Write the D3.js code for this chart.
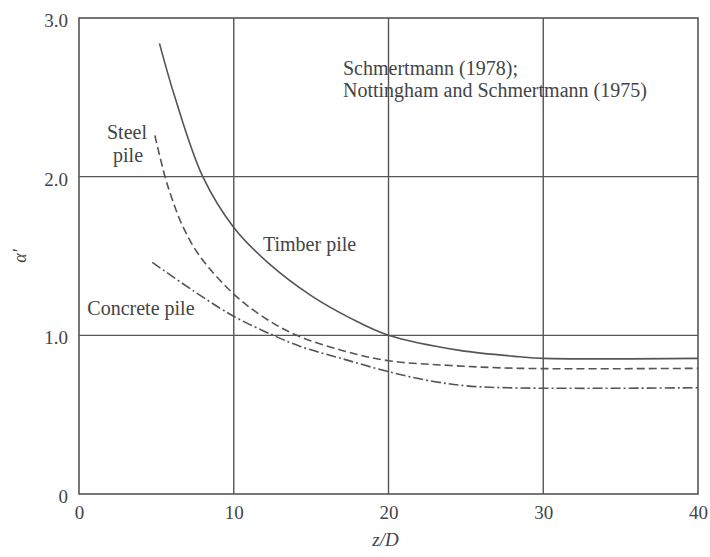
<!DOCTYPE html>
<html>
<head>
<meta charset="utf-8">
<script src="https://cdn.jsdelivr.net/npm/d3@7"></script>
<style>
  html, body { margin: 0; padding: 0; background: #fff; }
  svg { display: block; }
  text { font-family: "Liberation Serif", "Times New Roman", serif; fill: #444; }
</style>
</head>
<body>
<svg id="chart" width="710" height="557"></svg>
<script>
// α' versus z/D for driven piles (Schmertmann 1978; Nottingham & Schmertmann 1975)
const xTicks = [0, 10, 20, 30, 40];
const yTicks = [0, 1, 2, 3];
const yTickLabels = ["0", "1.0", "2.0", "3.0"];

const timberZ = [5.2, 6.2, 8.0, 10, 12.3, 15, 17.5, 20, 24.6, 28.5, 30, 40];
const timberA = [2.84, 2.50, 2.00, 1.68, 1.45, 1.25, 1.11, 1.00, 0.905, 0.865, 0.855, 0.855];

const steelZ = [4.9, 5.56, 6.05, 6.74, 7.8, 10, 12, 14.07, 17, 20, 24, 28.5, 40];
const steelA = [2.26, 2.00, 1.85, 1.68, 1.50, 1.26, 1.11, 1.00, 0.905, 0.84, 0.81, 0.792, 0.792];

const concreteZ = [4.74, 7.4, 10, 12.56, 14.3, 17, 20, 23, 26, 40];
const concreteA = [1.46, 1.28, 1.12, 1.00, 0.93, 0.853, 0.771, 0.708, 0.675, 0.67];

const series = [
  { name: "Timber pile", z: timberZ, a: timberA, dash: null },
  { name: "Steel pile", z: steelZ, a: steelA, dash: "8,4" },
  { name: "Concrete pile", z: concreteZ, a: concreteA, dash: "10,3,2,3" }
];

const margin = { left: 79, top: 18, right: 12, bottom: 63 };
const width = 710 - margin.left - margin.right;
const height = 557 - margin.top - margin.bottom;

const svg = d3.select("#chart");
const g = svg.append("g").attr("transform", `translate(${margin.left},${margin.top})`);

const x = d3.scaleLinear().domain([0, 40]).range([0, width]);
const y = d3.scaleLinear().domain([0, 3]).range([height, 0]);

const gridColor = "#555";

// grid lines
g.selectAll(".vgrid").data(xTicks.slice(1, -1)).join("line")
  .attr("x1", d => x(d)).attr("x2", d => x(d))
  .attr("y1", 0).attr("y2", height)
  .attr("stroke", gridColor).attr("stroke-width", 1.4);
g.selectAll(".hgrid").data(yTicks.slice(1, -1)).join("line")
  .attr("x1", 0).attr("x2", width)
  .attr("y1", d => y(d)).attr("y2", d => y(d))
  .attr("stroke", gridColor).attr("stroke-width", 1.4);

// frame
g.append("rect").attr("x", 0).attr("y", 0).attr("width", width).attr("height", height)
  .attr("fill", "none").attr("stroke", gridColor).attr("stroke-width", 1.6);

// axes (labels only, ticks drawn as grid)
const xAxis = d3.axisBottom(x).tickValues(xTicks).tickSize(0).tickPadding(12).tickFormat(d3.format("d"));
const yAxis = d3.axisLeft(y).tickValues(yTicks).tickSize(0).tickPadding(11).tickFormat((d, i) => yTickLabels[i]);

const gx = g.append("g").attr("transform", `translate(0,${height})`).call(xAxis);
const gy = g.append("g").call(yAxis);
[gx, gy].forEach(ax => {
  ax.select(".domain").remove();
  ax.selectAll("text").attr("font-size", 19).attr("font-family", "Liberation Serif").attr("fill", "#444");
});
gy.selectAll("text").attr("dy", "0.45em");

// curves
const line = d3.line().x(d => x(d[0])).y(d => y(d[1])).curve(d3.curveCatmullRom.alpha(0.5));
series.forEach(s => {
  const pts = s.z.map((z, i) => [z, s.a[i]]);
  g.append("path").datum(pts)
    .attr("d", line)
    .attr("fill", "none")
    .attr("stroke", "#555")
    .attr("stroke-width", 1.6)
    .attr("stroke-dasharray", s.dash);
});

// annotations
const fs = 20;
g.append("text").attr("x", x(17.06)).attr("y", y(2.64)).attr("font-size", fs).text("Schmertmann (1978);");
g.append("text").attr("x", x(17.06)).attr("y", y(2.502)).attr("font-size", fs).text("Nottingham and Schmertmann (1975)");
g.append("text").attr("x", x(1.81)).attr("y", y(2.237)).attr("font-size", fs).text("Steel");
g.append("text").attr("x", x(2.2)).attr("y", y(2.092)).attr("font-size", fs).text("pile");
g.append("text").attr("x", x(11.89)).attr("y", y(1.533)).attr("font-size", fs).text("Timber pile");
g.append("text").attr("x", x(0.54)).attr("y", y(1.128)).attr("font-size", fs).text("Concrete pile");

// axis titles
svg.append("text")
  .attr("x", margin.left + x(20) - 3).attr("y", 546)
  .attr("text-anchor", "middle").attr("font-size", 19).attr("font-style", "italic")
  .text("z/D");
svg.append("text")
  .attr("transform", "translate(26,256) rotate(-90)")
  .attr("text-anchor", "middle").attr("font-size", 18).attr("font-style", "italic")
  .text("α′");
</script>
</body>
</html>
